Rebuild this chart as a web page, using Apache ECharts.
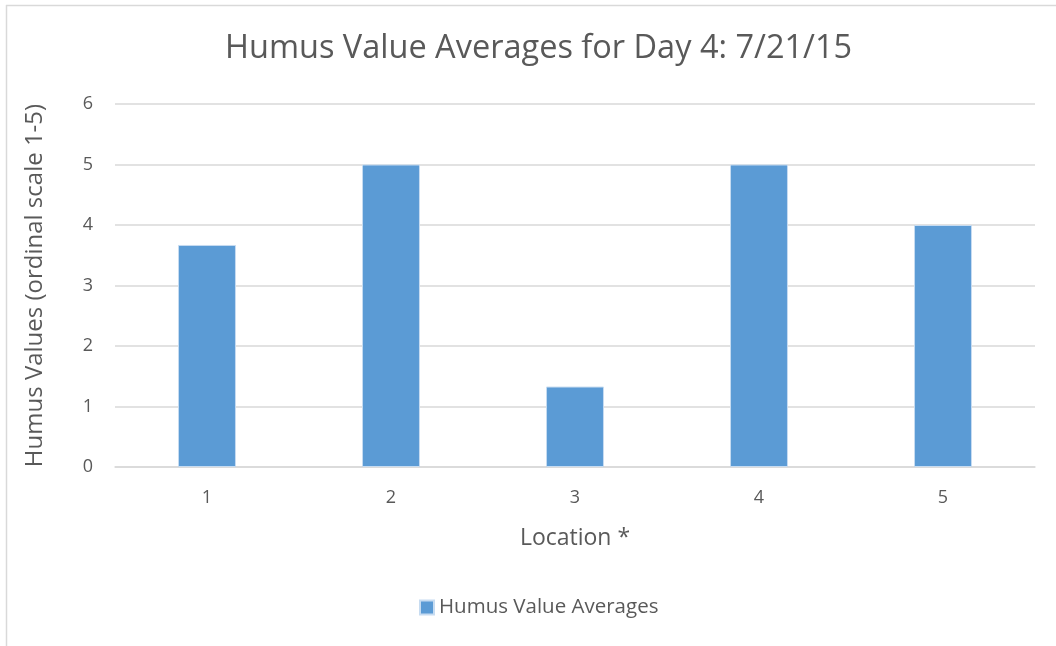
<!DOCTYPE html>
<html>
<head>
<meta charset="utf-8">
<script src="https://cdn.jsdelivr.net/npm/echarts@6/dist/echarts.min.js"></script>
<style>
  html, body { margin: 0; padding: 0; background: #fff; }
  #main { width: 1056px; height: 646px; }
</style>
</head>
<body>
<div id="main"></div>
<script>
// chart data
var locations = ["1", "2", "3", "4", "5"];
var humusAverages = [3.67, 5, 1.33, 5, 4];
var seriesName = "Humus Value Averages";

var chart = echarts.init(document.getElementById("main"));
var font = "'Open Sans', sans-serif";

chart.setOption({
  animation: false,
  textStyle: { fontFamily: font },
  title: {
    text: "Humus Value Averages for Day 4: 7/21/15",
    left: 220,
    top: 27,
    textStyle: { color: "#595959", fontSize: 32.5, fontWeight: "normal", fontFamily: font }
  },
  // light frame on the left and top edges
  graphic: [
    { type: "line", shape: { x1: 6.5, y1: 5, x2: 6.5, y2: 646 }, style: { stroke: "#d9d9d9", lineWidth: 1.5 } },
    { type: "line", shape: { x1: 6, y1: 5.5, x2: 1056, y2: 5.5 }, style: { stroke: "#d9d9d9", lineWidth: 1.5 } }
  ],
  legend: {
    data: [seriesName],
    bottom: 23,
    left: 414,
    icon: "rect",
    itemWidth: 14,
    itemHeight: 14,
    itemGap: 8,
    textStyle: { color: "#595959", fontSize: 20.5, fontFamily: font }
  },
  grid: { left: 115, right: 21, top: 104, bottom: 179 },
  xAxis: {
    type: "category",
    data: locations,
    name: "Location *",
    nameLocation: "middle",
    nameGap: 60,
    nameTextStyle: { color: "#595959", fontSize: 23 },
    axisTick: { show: false },
    axisLine: { lineStyle: { color: "#d9d9d9", width: 1.5 } },
    axisLabel: { color: "#595959", fontSize: 18, margin: 22 }
  },
  yAxis: {
    type: "value",
    min: 0,
    max: 6,
    interval: 1,
    name: "Humus Values (ordinal scale 1-5)",
    nameLocation: "middle",
    nameGap: 68,
    nameTextStyle: { color: "#595959", fontSize: 24 },
    axisLine: { show: false },
    axisTick: { show: false },
    axisLabel: { color: "#595959", fontSize: 18, margin: 22 },
    splitLine: { lineStyle: { color: "#d9d9d9", width: 1.5 } }
  },
  series: [
    {
      name: seriesName,
      type: "bar",
      data: humusAverages,
      barWidth: "31.5%",
      itemStyle: { color: "#5b9bd5", borderColor: "#c7dcf1", borderWidth: 1 }
    }
  ]
});
</script>
</body>
</html>
